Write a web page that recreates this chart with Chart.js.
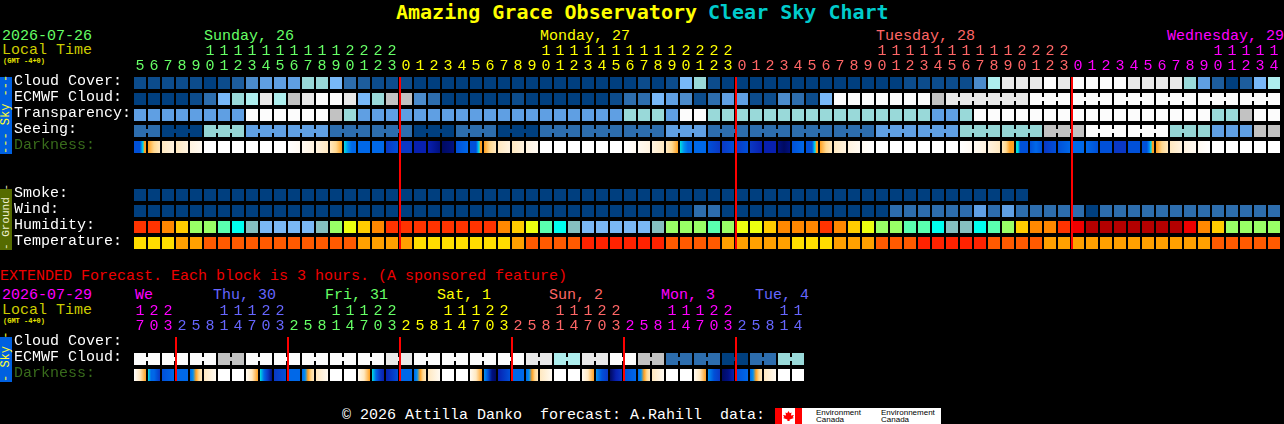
<!DOCTYPE html>
<html><head><meta charset="utf-8"><title>Amazing Grace Observatory Clear Sky Chart</title>
<script src="https://cdn.jsdelivr.net/npm/chart.js@4"></script>
<style>
html,body{margin:0;padding:0;background:#000;width:1284px;height:424px;overflow:hidden}
#page{position:relative;width:1284px;height:424px;overflow:hidden;font-family:"Liberation Mono",monospace;font-size:15px;line-height:15px;color:#fff}
canvas{position:absolute;left:0}
.t{position:absolute;white-space:pre}
.side{position:absolute;left:0;width:12px;writing-mode:vertical-rl;transform:rotate(180deg);text-align:center;font-size:12px;line-height:12px;white-space:pre}
#logo{position:absolute;left:775px;top:408px;width:166px;height:16px;background:#fff;overflow:hidden;color:#000;font-family:"Liberation Sans",sans-serif;font-size:8px;line-height:7px}
#logo div{position:absolute}
</style></head><body>
<div id="page">
<div class="t" style="left:396px;top:1px;font-size:20px;line-height:22px;font-weight:bold;font-family:'DejaVu Sans Mono',monospace;color:#ffff00">Amazing Grace Observatory</div>
<div class="t" style="left:708px;top:1px;font-size:20px;line-height:22px;font-weight:bold;font-family:'DejaVu Sans Mono',monospace;color:#00cccc">Clear Sky Chart</div>
<div class="t" style="left:2px;top:29px;color:#66ff66">2026-07-26</div>
<div class="t" style="left:2px;top:43px;color:#cccc00">Local Time</div>
<div class="t" style="left:3px;top:57px;font-size:7px;line-height:8px;font-weight:bold;color:#e6e600">(GMT -4+0)</div>
<div class="t" style="left:204px;top:29px;color:#66ff66">Sunday, 26</div>
<div class="t" style="left:540px;top:29px;color:#ffff00">Monday, 27</div>
<div class="t" style="left:876px;top:29px;color:#ff6666">Tuesday, 28</div>
<div class="t" style="left:1167px;top:29px;color:#ff00ff">Wednesday, 29</div>
<div class="side" style="top:77px;height:77px;background:#0060e0;color:#ffff33">--- Sky ---</div>
<div class="side" style="top:189px;height:61px;background:#556b00;color:#f0f0d0;font-size:11px">- Ground -</div>
<div class="t" style="left:0;top:269px;color:#ee0000">EXTENDED Forecast. Each block is 3 hours. (A sponsored feature)</div>
<div class="t" style="left:2px;top:288px;color:#ff00ff">2026-07-29</div>
<div class="t" style="left:2px;top:303px;color:#cccc00">Local Time</div>
<div class="t" style="left:3px;top:317px;font-size:7px;line-height:8px;font-weight:bold;color:#e6e600">(GMT -4+0)</div>
<div class="t" style="left:135px;top:288px;color:#ff00ff">We</div>
<div class="t" style="left:213px;top:288px;color:#6666ff">Thu, 30</div>
<div class="t" style="left:325px;top:288px;color:#66ff66">Fri, 31</div>
<div class="t" style="left:437px;top:288px;color:#ffff00">Sat, 1</div>
<div class="t" style="left:549px;top:288px;color:#ff6666">Sun, 2</div>
<div class="t" style="left:661px;top:288px;color:#ff00ff">Mon, 3</div>
<div class="t" style="left:755px;top:288px;color:#6666ff">Tue, 4</div>
<div class="side" style="top:337px;height:45px;background:#0060e0;color:#ffff33">- Sky -</div>
<div class="t" style="left:342px;top:408px">© 2026 Attilla Danko  forecast: A.Rahill  data:</div>
<div id="logo">
<div style="left:0;top:0;width:7px;height:16px;background:#f00"></div>
<div style="left:20px;top:0;width:7px;height:16px;background:#f00"></div>
<div style="left:8px;top:3px;width:11px;height:10px;background:#f00;clip-path:polygon(50% 0,62% 22%,78% 16%,72% 45%,100% 40%,88% 62%,100% 70%,60% 85%,60% 100%,40% 100%,40% 85%,0 70%,12% 62%,0 40%,28% 45%,22% 16%,38% 22%)"></div>
<div style="left:41px;top:1px">Environment<br>Canada</div>
<div style="left:106px;top:1px">Environnement<br>Canada</div>
</div>
<canvas id="top" width="1284" height="256" style="top:0"></canvas>
<canvas id="ext" width="812" height="130" style="top:260px"></canvas>
</div>
<script>
// ---------- hour axis ----------
const hoursTop = [5,6,7,8,9,10,11,12,13,14,15,16,17,18,19,20,21,22,23,
 0,1,2,3,4,5,6,7,8,9,10,11,12,13,14,15,16,17,18,19,20,21,22,23,
 0,1,2,3,4,5,6,7,8,9,10,11,12,13,14,15,16,17,18,19,20,21,22,23,
 0,1,2,3,4,5,6,7,8,9,10,11,12,13,14];
const hoursExt = [17,20,23,
 2,5,8,11,14,17,20,23, 2,5,8,11,14,17,20,23, 2,5,8,11,14,17,20,23,
 2,5,8,11,14,17,20,23, 2,5,8,11,14,17,20,23, 2,5,8,11,14];
const dayColorsTop = ['#66ff66','#ffff00','#ff6666','#ff00ff'];
const dayColorsExt = ['#ff00ff','#6666ff','#66ff66','#ffff00','#ff6666','#ff00ff','#6666ff'];
const midnightTop = [19,43,67];
const midnightExt = [3,11,19,27,35,43];

// ---------- row labels ----------
const rowLabelsTop = ['Cloud Cover:','ECMWF Cloud:','Transparency:','Seeing:','Darkness:','','','Smoke:','Wind:','Humidity:','Temperature:'];
const rowLabelsExt = ['Cloud Cover:','ECMWF Cloud:','Darkness:'];

// ---------- colour palettes ----------
const cloudPalette = ['#003f7f','#0c4c8c','#1d5d9d','#2d6dad','#4b8bcb','#5f9fe3','#78b8f8','#99d9d9','#aeeeee','#c2c2c2','#e9e9e9','#fcfcfc'];
const seeingPalette = ['#003f7f','#2d6dad','#5f9fe3','#95d5d5','#c2c2c2','#fcfcfc'];
const humidityPalette = ['#7ab8f5','#85bfbf','#00ffee','#5affaf','#99ff66','#ecff10','#ffcc00','#ff8800','#ff3300','#ee0000','#b30000'];
const temperaturePalette = ['#ffdd00','#ffa000','#ff5a00','#ff2200'];
const darkRamp = {'-6':'#ffffff','-5':'#fffaf2','-4':'#fff3e0','-3':'#ffe8c0','-2':'#ffd890','-1':'#ffa020',
 0:'#00e0e0',1:'#0090f0',2:'#0068e8',3:'#0050d8',4:'#0a38c4',5:'#0820b0',6:'#001080',7:'#000a60'};

// ---------- series (palette levels) ----------
const cloudCover = [1,1,1,1,1,0,1,2,4,5,5,5,7,7,6,3,2,1,1,1,0,
 0,0,0,0,0,0,0,0,0,0,0,0,0,0,0,1,0,1,6,7,1,0,0,0,0,0,0,0,0,0,0,
 0,0,0,1,1,1,1,1,4,8,10,10,10,11,10,11,11,11,11,10,10,10,10,7,5,2,0,2,6,8];
const ecmwfCloud = [0,0,0,0,1,3,6,7,8,10,8,9,10,11,11,10,6,7,9,9,4,
 3,0,0,0,0,0,1,0,0,0,0,0,0,1,3,3,6,5,4,1,3,5,5,1,1,4,3,1,6,11,11,
 11,11,11,11,11,9,10,10,10,10,10,10,11,11,11,11,11,11,11,11,11,11,11,11,11,11,11,11,11,11];
const transparency = [5,5,5,5,5,5,5,5,11,11,11,11,11,11,9,7,5,5,5,5,5,
 5,5,5,5,5,5,5,5,5,5,5,5,5,5,7,7,7,5,11,11,7,7,7,7,7,7,7,7,7,7,7,
 7,7,7,7,7,5,5,7,11,11,11,11,11,11,11,11,11,11,11,11,11,11,11,11,11,7,7,9,11,11];
const seeing = [1,1,0,0,0,3,3,3,2,2,2,2,2,2,1,1,1,1,1,1,0,
 0,0,1,1,1,0,0,0,1,1,1,1,1,1,1,1,1,2,2,2,1,1,1,1,1,1,1,1,1,1,1,
 1,2,2,2,2,2,2,3,3,3,3,3,3,4,4,4,5,5,5,5,5,5,3,3,3,2,2,2,4,4];
const smoke = [0,0,0,0,0,0,0,0,0,0,0,0,0,0,0,0,0,0,0,0,0,0,0,0,0,0,0,0,0,0,0,0,
 0,0,0,0,0,0,0,0,0,0,0,0,0,0,0,0,0,0,0,0,0,0,0,0,0,0,0,0,0,0,0,0];
const wind = [0,0,0,0,0,0,0,0,0,0,0,0,0,0,0,0,0,0,0,0,0,
 0,0,0,0,0,0,0,0,0,0,0,0,0,0,0,0,0,0,0,1,1,0,0,0,0,0,0,0,0,0,0,
 0,0,1,1,1,1,1,1,2,1,2,1,1,1,1,1,0,1,1,1,1,1,1,1,1,1,1,1,1,1];
const humidity = [8,8,7,6,4,4,3,2,1,0,0,0,0,1,4,5,6,7,8,8,8,
 8,8,8,8,8,7,6,5,3,2,1,0,0,0,0,0,1,4,4,4,3,4,5,5,6,7,7,7,8,7,6,
 5,4,4,3,3,2,1,1,2,3,4,6,7,7,8,9,10,10,10,10,10,10,10,9,7,6,4,4,4,4];
const temperature = [0,0,0,1,1,2,2,2,2,2,2,2,2,2,2,2,1,1,1,1,0,
 0,0,0,0,0,0,1,2,2,2,2,3,3,3,3,3,3,2,2,2,2,1,1,1,1,1,0,0,0,1,1,
 1,2,2,2,3,3,3,3,3,2,2,2,2,1,1,1,1,1,1,1,1,1,1,1,1,2,2,2,2,2];
const W = [-6,-6];
const darknessTop = [
 [3,3,3,3,3,1,0,-1,-1],[-1,-2,-3],[-3,-4],[-3,-4],[-4,-5],W,W,W,W,W,W,[-6,-5],[-5,-4],[-4,-3],[-3,-2,-1],[0,1,2,2],[2,2],[2,2],[4,3],[4,4],[5,5],
 [5,6],[7,6],[3,2],[3,3,3,3,3,1,0,-1,-1],[-1,-2,-3],[-3,-4],[-3,-4],[-4,-5],W,W,W,W,W,W,[-6,-5],[-5,-4],[-4,-3],[-3,-2,-1],[0,1,2,2],[2,2],[3,4],[4,3],[4,3],[4,5],[5,5],[6,7,6],[3,2],[3,3,3,3,3,1,0,-1,-1],[-1,-2,-3],[-3,-4],[-4,-5],
 [-5,-6],W,W,W,W,W,W,[-6,-5],[-5,-4],[-4,-3],[-3,-2,-1,-1],[0,0,3,3,3,3,3],[3,2,3],[4,3],[3,2],[2,2],[2,3],[3,3],[4,4],[3,3],[3,3,3,3,2,1,0,-1,-1],[-1,-2,-3],[-3,-4],[-4,-5],[-5,-6],W,W,W,W,W];
const ecmwfExt = [11,11,11,11,11,11,9,9,11,11,11,11,11,11,11,11,11,11,10,10,11,11,11,11,
 11,11,11,11,10,10,8,8,10,10,11,11,9,9,3,3,3,3,0,0,3,3,7,7];
const darknessExt = [
 [-6,-3,-1],[0,2,2,3,4],[3,2],[2,2],[2,1,-1,-2,-3],[-3,-5],W,W,
 [-5,-3,-1],[0,2,4,6],[4,3],[2,2],[2,1,-1,-2,-3],[-3,-5],W,W,
 [-5,-3,-1],[0,2,4,5],[5,3],[2,2],[2,1,-1,-2,-3],[-3,-5],W,W,
 [-5,-3,-1],[1,3,6,7],[5,3],[2,2],[2,1,-1,-2,-3],[-3,-5],W,W,
 [-5,-3,-1],[1,3,4],[7,5,4],[3,2],[2,1,-1,-2,-3],[-3,-5],W,W,
 [-5,-3,-1],[1,3,4],[7,6,5],[3,2],[2,1,-1,-2,-3],[-3,-5],W,W];
// blocks that join the next one (forecast steps longer than one block)
const seeingSteps = [2,3,3,3,3,3,3,3,3,3,3,3,3,3,3,3,3,3,3,3,3,3,3,3,3,2];
const ecmwfTopStart = 58;
const ecmwfTopSteps = [6,3,3,3,3,3,3];
const ecmwfExtSteps = [2,2,2,2,2,2,2,2,2,2,2,2,2,2,2,2,2,2,2,2,2,2,2,2];

// ---------- helpers ----------
function hourLabel(h){ return h<10 ? String(h) : String(h).split(''); }
function hourColors(hours, colors){
  let d=0; return hours.map((h,i)=>{ if(i>0 && h<hours[i-1]) d++; return colors[d]; });
}
function links(steps, start){
  const set=new Set(); let c=start;
  steps.forEach(n=>{ for(let k=0;k<n-1;k++) set.add(c+k); c+=n; });
  return set;
}
const BLOCK = 0.75; // block height in rows
function barRow(values,row,palette,extra){
  return Object.assign({
    data: values.map(v=>[row-BLOCK/2,row+BLOCK/2]),
    backgroundColor: values.map(v=>palette[v]),
    grouped:false, barPercentage:12/14, categoryPercentage:1, borderWidth:0, inflateAmount:0
  },extra||{});
}
function darkRow(samples,row){
  return {
    data: samples.map(()=>[row-BLOCK/2,row+BLOCK/2]),
    backgroundColor: ctx=>{
      const s=samples[ctx.dataIndex]; if(!s) return '#000';
      const c=ctx.chart.scales.x.getPixelForTick(ctx.dataIndex);
      const g=ctx.chart.ctx.createLinearGradient(c-6,0,c+6,0);
      s.forEach((v,i)=>g.addColorStop(i/(s.length-1),darkRamp[v]));
      return g;
    },
    grouped:false, barPercentage:12/14, categoryPercentage:1, borderWidth:0, inflateAmount:0
  };
}
const overlay = {
  id:'overlay',
  afterDatasetsDraw(chart,args,opts){
    const ctx=chart.ctx, x=chart.scales.x, y=chart.scales.y;
    chart.data.datasets.forEach((ds,di)=>{
      if(!ds.links) return;
      const meta=chart.getDatasetMeta(di);
      ds.links.forEach(i=>{
        const a=meta.data[i], b=meta.data[i+1];
        if(!a||!b) return;
        const h=Math.abs(a.base-a.y), cy=(a.base+a.y)/2;
        ctx.fillStyle=ds.backgroundColor[i];
        ctx.fillRect(a.x+a.width/2, cy-h/6, b.x-b.width/2-(a.x+a.width/2), h/3);
      });
    });
    ctx.fillStyle='#ff0000';
    const y0=y.getPixelForValue(-BLOCK/2), y1=y.getPixelForValue(opts.lastRow+BLOCK/2);
    opts.cols.forEach(c=>{
      ctx.fillRect(x.getPixelForTick(c)-7, y0, 2, y1-y0);
    });
  }
};
function scaleOptions(rowLabels,colors,rowCount){
  const font={family:'"Liberation Mono",monospace',size:15,lineHeight:1};
  return {
    x:{position:'top',offset:true,grid:{display:false,drawTicks:false},border:{display:false},
       afterFit:s=>{s.height=75;s.paddingLeft=0;s.paddingRight=0;},
       ticks:{autoSkip:false,maxRotation:0,minRotation:0,padding:1,font,color:c=>colors[c.index]}},
    y:{reverse:true,min:-0.5,max:rowCount-0.5,grid:{display:false,drawTicks:false},border:{display:false},
       afterFit:s=>{s.width=119;s.paddingTop=0;s.paddingBottom=0;},
       afterBuildTicks:s=>{s.ticks=rowLabels.map((l,i)=>({value:i})).filter(t=>rowLabels[t.value]);},
       ticks:{autoSkip:false,crossAlign:'far',padding:0,labelOffset:-2,font,
         callback:v=>rowLabels[v]||'',
         color:c=>rowLabels[c.tick.value]==='Darkness:'?'#386b1b':'#ffffff'}}
  };
}
const baseOptions={responsive:false,animation:false,devicePixelRatio:1,events:[]};

new Chart(document.getElementById('top'),{
  type:'bar',
  data:{labels:hoursTop.map(hourLabel),datasets:[
    barRow(cloudCover,0,cloudPalette),
    barRow(ecmwfCloud,1,cloudPalette,{links:links(ecmwfTopSteps,ecmwfTopStart)}),
    barRow(transparency,2,cloudPalette),
    barRow(seeing,3,seeingPalette,{links:links(seeingSteps,0)}),
    darkRow(darknessTop,4),
    barRow(smoke,7,cloudPalette),
    barRow(wind,8,seeingPalette),
    barRow(humidity,9,humidityPalette),
    barRow(temperature,10,temperaturePalette)
  ]},
  options:Object.assign({},baseOptions,{
    layout:{padding:{left:14,right:3,top:0,bottom:5}},
    scales:scaleOptions(rowLabelsTop,hourColors(hoursTop,dayColorsTop),11),
    plugins:{legend:{display:false},tooltip:{enabled:false},overlay:{cols:midnightTop,lastRow:10}}
  }),
  plugins:[overlay]
});
new Chart(document.getElementById('ext'),{
  type:'bar',
  data:{labels:hoursExt.map(hourLabel),datasets:[
    barRow(ecmwfExt,1,cloudPalette,{links:links(ecmwfExtSteps,0)}),
    darkRow(darknessExt,2)
  ]},
  options:Object.assign({},baseOptions,{
    layout:{padding:{left:14,right:7,top:0,bottom:7}},
    scales:scaleOptions(rowLabelsExt,hourColors(hoursExt,dayColorsExt),3),
    plugins:{legend:{display:false},tooltip:{enabled:false},overlay:{cols:midnightExt,lastRow:2}}
  }),
  plugins:[overlay]
});
</script>
</body></html>
